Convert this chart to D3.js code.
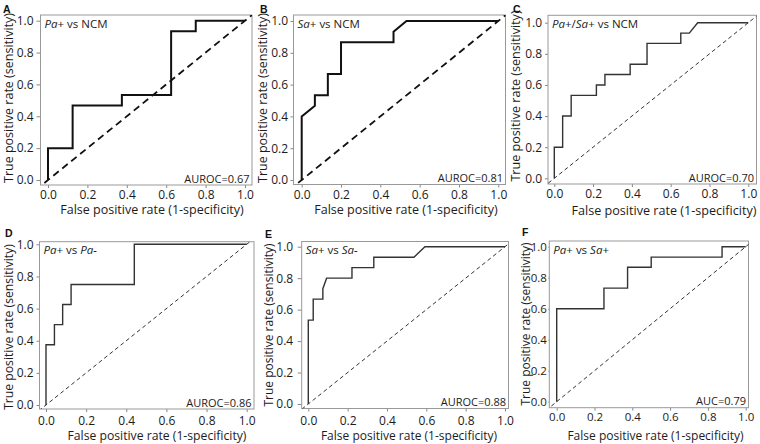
<!DOCTYPE html>
<html><head><meta charset="utf-8">
<script src="https://cdn.jsdelivr.net/npm/d3@7"></script>
<style>body{margin:0;background:#fff} svg{display:block}</style>
</head><body>
<script>
// ---------- data ----------
const panelLetters = ["A","B","C","D","E","F"];
const titleParts = [
  [["Pa",1],["+ vs NCM",0]],
  [["Sa",1],["+ vs NCM",0]],
  [["Pa",1],["+/",0],["Sa",1],["+ vs NCM",0]],
  [["Pa",1],["+ vs ",0],["Pa-",1]],
  [["Sa",1],["+ vs ",0],["Sa-",1]],
  [["Pa",1],["+ vs ",0],["Sa",1],["+",0]]
];
const aucLabels = ["AUROC=0.67","AUROC=0.81","AUROC=0.70","AUROC=0.86","AUROC=0.88","AUC=0.79"];
const tickValues = [0,0.2,0.4,0.6,0.8,1];
const tickLabels = ["0.0","0.2","0.4","0.6","0.8","1.0"];
const xTitle = "False positive rate (1-specificity)";
const yTitle = "True positive rate (sensitivity)";

const fprA = [0,0,0.125,0.125,0.375,0.375,0.625,0.625,0.75,0.75,1];
const tprA = [0,0.2,0.2,0.467,0.467,0.533,0.533,0.933,0.933,1,1];
const fprB = [0,0,0.067,0.067,0.133,0.133,0.2,0.2,0.467,0.467,0.533,1];
const tprB = [0,0.4,0.467,0.533,0.533,0.667,0.667,0.867,0.867,0.933,1,1];
const fprC = [0,0,0.043,0.043,0.087,0.087,0.217,0.217,0.261,0.261,0.391,0.391,0.478,0.478,0.652,0.652,0.696,0.739,1];
const tprC = [0,0.2,0.2,0.4,0.4,0.533,0.533,0.6,0.6,0.667,0.667,0.733,0.733,0.867,0.867,0.933,0.933,1,1];
const fprD = [0,0,0.042,0.042,0.083,0.083,0.125,0.125,0.44,0.44,1];
const tprD = [0,0.375,0.375,0.5,0.5,0.625,0.625,0.75,0.75,1,1];
const fprE = [0,0,0.025,0.025,0.074,0.074,0.093,0.222,0.222,0.333,0.333,0.537,0.593,1];
const tprE = [0,0.533,0.533,0.667,0.667,0.733,0.8,0.8,0.867,0.867,0.933,0.933,1,1];
const fprF = [0,0,0.25,0.25,0.375,0.375,0.5,0.5,0.875,0.875,1];
const tprF = [0,0.6,0.6,0.733,0.733,0.867,0.867,0.933,0.933,1,1];
const fprs = [fprA,fprB,fprC,fprD,fprE,fprF];
const tprs = [tprA,tprB,tprC,tprD,tprE,tprF];

// ---------- layout (positions / styles) ----------
const layout = [
  {box:[40.5,15,252,185], xr:[48,245], yr:[180,20.7], heavy:true, yT:[9,98], xT:[152,210], letter:[3,13], yTick:4, yPad:3, xTick:3, xPad:2.5, fs:12, ft:12.5},
  {box:[293.5,15,505.5,184.5], xr:[301.7,498.3], yr:[180,21], heavy:true, yT:[263,98], xT:[406,210], letter:[260,13], yTick:3, yPad:2.5, xTick:3, xPad:2.5, fs:12, ft:12.5},
  {box:[548,15.3,756.5,184], xr:[554.3,748.3], yr:[178.3,22.7], heavy:false, yT:[515.5,96], xT:[664,210.5], letter:[513,13], yTick:3, yPad:3, xTick:3, xPad:2.5, fs:12, ft:12.6},
  {box:[39.5,241.7,254,409], xr:[46,246.7], yr:[405,244.3], heavy:false, yT:[9,327], xT:[157,436.2], letter:[5,237], yTick:3, yPad:3, xTick:3, xPad:4, fs:12, ft:12.2},
  {box:[301.7,241.5,508.5,408.5], xr:[308.3,505], yr:[404,246.7], heavy:false, yT:[269,325], xT:[409,436.2], letter:[265,238], yTick:4, yPad:4.5, xTick:3, xPad:4.5, fs:12, ft:12},
  {box:[549.3,241,748.5,407.7], xr:[556.7,745.7], yr:[401.7,246.7], heavy:false, yT:[526,324], xT:[655.5,436.2], letter:[522,236], yTick:1, yPad:1.5, xTick:3, xPad:2.5, fs:11.5, ft:12}
];

const W = 760, H = 444;
const FONT = "'Open Sans', 'Noto Sans', sans-serif";
const TXT = "#1c1c1c";
const svg = d3.select("body").append("svg").attr("width", W).attr("height", H)
  .style("font-family", FONT);

layout.forEach((L, i) => {
  const [bl, bt, br, bb] = L.box;
  const x = d3.scaleLinear().domain([0,1]).range(L.xr);
  const y = d3.scaleLinear().domain([0,1]).range(L.yr);
  const g = svg.append("g");

  const clipId = "clip" + i;
  svg.append("clipPath").attr("id", clipId)
    .append("rect").attr("x", bl).attr("y", bt).attr("width", br - bl).attr("height", bb - bt);

  // axes
  const ya = d3.axisLeft(y).tickValues(tickValues).tickFormat((d, k) => tickLabels[k])
    .tickSize(L.yTick).tickPadding(L.yPad);
  const yg = g.append("g").attr("transform", `translate(${bl},0)`).call(ya);
  const xa = d3.axisBottom(x).tickValues(tickValues).tickFormat((d, k) => tickLabels[k])
    .tickSize(L.xTick).tickPadding(L.xPad);
  const xg = g.append("g").attr("transform", `translate(0,${bb})`).call(xa);
  [yg, xg].forEach(a => {
    a.select(".domain").remove();
    a.selectAll(".tick line").attr("stroke", "#888");
    a.selectAll(".tick text").attr("fill", TXT).style("font-size", L.fs + "px").style("font-family", FONT);
  });

  // box
  g.append("rect").attr("x", bl).attr("y", bt).attr("width", br - bl).attr("height", bb - bt)
    .attr("fill", "none").attr("stroke", "#999").attr("stroke-width", 1);

  // diagonal reference
  g.append("line")
    .attr("x1", x(-0.2)).attr("y1", y(-0.2)).attr("x2", x(1.2)).attr("y2", y(1.2))
    .attr("clip-path", `url(#${clipId})`)
    .attr("stroke", L.heavy ? "#111" : "#333")
    .attr("stroke-width", L.heavy ? 1.8 : 1)
    .attr("stroke-dasharray", L.heavy ? "7,4.5" : "4,3");

  // ROC curve
  const pts = d3.zip(fprs[i], tprs[i]);
  g.append("path").datum(pts)
    .attr("d", d3.line().x(d => x(d[0])).y(d => y(d[1])))
    .attr("fill", "none")
    .attr("stroke", L.heavy ? "#111" : "#333")
    .attr("stroke-width", L.heavy ? 2 : 1.4)
    .attr("stroke-linejoin", "miter");

  // title inside box
  const t = g.append("text").attr("x", bl + 4).attr("y", bt + 12.5)
    .attr("fill", TXT).style("font-size", "11.5px");
  titleParts[i].forEach(p => {
    t.append("tspan").text(p[0]).style("font-style", p[1] ? "italic" : "normal");
  });

  // AUC label
  g.append("text").attr("x", br - 2.5).attr("y", bb - 2.5).attr("text-anchor", "end")
    .attr("fill", TXT).style("font-size", "11px").text(aucLabels[i]);

  // axis titles
  g.append("text").attr("transform", `translate(${L.yT[0]},${L.yT[1]}) rotate(-90)`)
    .attr("text-anchor", "middle").attr("dy", "0.35em")
    .attr("fill", TXT).style("font-size", L.ft + "px").text(yTitle);
  g.append("text").attr("x", L.xT[0]).attr("y", L.xT[1]).attr("dy", "0.35em")
    .attr("text-anchor", "middle")
    .attr("fill", TXT).style("font-size", L.ft + "px").text(xTitle);

  // panel letter
  g.append("text").attr("x", L.letter[0]).attr("y", L.letter[1])
    .attr("fill", "#111").style("font-size", "10.5px").style("font-weight", "bold")
    .style("font-family", "'Liberation Sans', Arial, sans-serif").text(panelLetters[i]);
});
</script>
</body></html>
